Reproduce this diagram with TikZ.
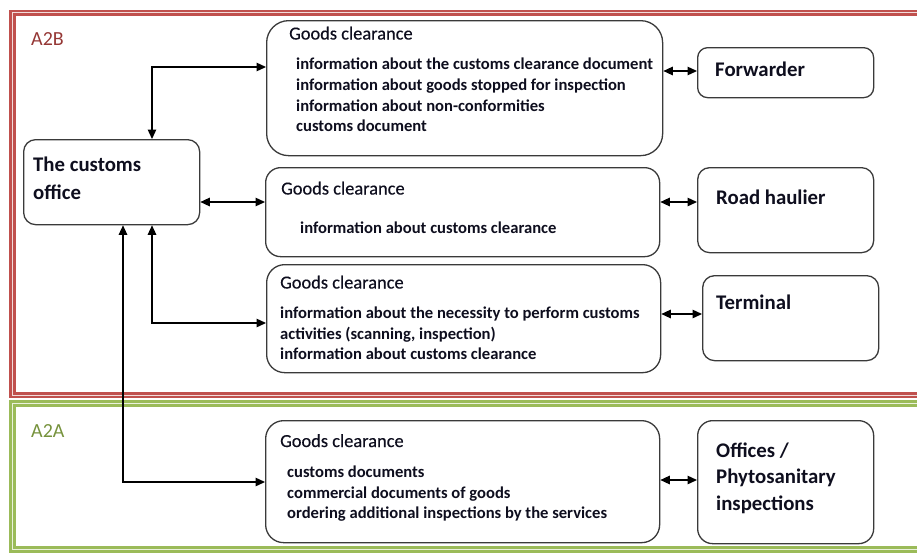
\documentclass[tikz,border=0pt]{standalone}
\usepackage{fontspec}
\setmainfont{Carlito}
\newfontfamily\ttlfont[FakeBold=0.35]{Carlito}
\usetikzlibrary{arrows.meta}
\definecolor{frred}{HTML}{C0504D}
\definecolor{frredl}{HTML}{F2DCDB}
\definecolor{frgrn}{HTML}{9BBB59}
\definecolor{frgrnl}{HTML}{EAF1DD}
\definecolor{lblred}{HTML}{953735}
\definecolor{lblgrn}{HTML}{76923C}
\definecolor{boxgray}{HTML}{3A3A3A}
\definecolor{txt}{RGB}{14,14,30}
\tikzset{
  box/.style={draw=boxgray, line width=1.3pt, fill=white, rounded corners=#1, inner sep=0pt, anchor=north west},
  ttl/.style={anchor=base west, inner sep=0pt, text=txt, font=\ttlfont\fontsize{18.4}{22}\selectfont},
  itm/.style={anchor=base west, inner sep=0pt, text=txt, font=\fontsize{16.6}{20}\selectfont\bfseries},
  big/.style={anchor=base west, inner sep=0pt, text=txt, font=\fontsize{20.8}{24}\selectfont\bfseries},
  zone/.style={anchor=base west, inner sep=0pt, font=\fontsize{20}{24}\selectfont},
  link/.style={line width=1.3pt, black, {Triangle[length=9.5pt,width=8.5pt]}-{Triangle[length=9.5pt,width=8.5pt]}},
}
\begin{document}
\begin{tikzpicture}[x=1pt,y=-1pt]
\useasboundingbox (0,0) rectangle (917,554);
\begin{scope}
\clip (0,0) rectangle (917,554);
\draw[frred, line width=2.8pt, double=frredl, double distance=1pt] (12.3,12.8) rectangle (960,395);
\draw[frgrn, line width=2.8pt, double=frgrnl, double distance=1pt] (12.5,403.3) rectangle (960,549.5);
\end{scope}
\node[zone, text=lblred] (zb) at (31,45) {A2B};
\node[zone, text=lblgrn] (za) at (31,437) {A2A};
% boxes
\node[box=12pt, minimum width=176pt, minimum height=85pt] (co) at (23,139) {};
\node[box=22pt, minimum width=396pt, minimum height=135pt] (g1) at (266,20) {};
\node[box=15pt, minimum width=394pt, minimum height=89pt] (g2) at (265,167) {};
\node[box=18pt, minimum width=394pt, minimum height=108pt] (g3) at (266,264) {};
\node[box=18pt, minimum width=394pt, minimum height=122pt] (g4) at (265,420) {};
\node[box=10pt, minimum width=176pt, minimum height=50pt] (fw) at (697,47) {};
\node[box=12pt, minimum width=176pt, minimum height=85pt] (rh) at (697,167) {};
\node[box=12pt, minimum width=176pt, minimum height=85pt] (tm) at (702,275) {};
\node[box=15pt, minimum width=176pt, minimum height=123pt] (of) at (697,420) {};
% texts
\node[big] (cot1) at (33,171) {The customs};
\node[big] (cot2) at (33,199) {office};
\node[ttl] (g1t) at (289,39.5) {Goods clearance};
\node[itm] (g1a) at (296,69.5) {information about the customs clearance document};
\node[itm] (g1b) at (296,90) {information about goods stopped for inspection};
\node[itm] (g1c) at (296,111) {information about non-conformities};
\node[itm] (g1d) at (296,131.5) {customs document};
\node[ttl] (g2t) at (281,194.5) {Goods clearance};
\node[itm] (g2a) at (300,233) {information about customs clearance};
\node[ttl] (g3t) at (280,288.5) {Goods clearance};
\node[itm] (g3a) at (280,318.5) {information about the necessity to perform customs};
\node[itm] (g3b) at (280,339) {activities (scanning, inspection)};
\node[itm] (g3c) at (280,359.5) {information about customs clearance};
\node[ttl] (g4t) at (280,447) {Goods clearance};
\node[itm] (g4a) at (287,477.5) {customs documents};
\node[itm] (g4b) at (287,498) {commercial documents of goods};
\node[itm] (g4c) at (287,518.5) {ordering additional inspections by the services};
\node[big] (fwt) at (715,76) {Forwarder};
\node[big] (rht) at (716,204) {Road haulier};
\node[big] (tmt) at (716,309) {Terminal};
\node[big] (oft1) at (716,457) {Offices /};
\node[big] (oft2) at (716,483.5) {Phytosanitary};
\node[big] (oft3) at (716,510) {inspections};
% connector levels
\coordinate (k1) at (152,67);
\coordinate (k2) at (0,202);
\coordinate (k3) at (152,323);
\coordinate (k4) at (123,482);
\coordinate (r1) at (0,71);
\coordinate (r2) at (0,202);
\coordinate (r3) at (0,314);
\coordinate (r4) at (0,480);
% connectors
\draw[link] (co.north -| k1) |- (g1.west |- k1);
\draw[link] (co.east |- k2) -- (g2.west |- k2);
\draw[link] (co.south -| k3) |- (g3.west |- k3);
\draw[link] (co.south -| k4) |- (g4.west |- k4);
\draw[link] (g1.east |- r1) -- (fw.west |- r1);
\draw[link] (g2.east |- r2) -- (rh.west |- r2);
\draw[link] (g3.east |- r3) -- (tm.west |- r3);
\draw[link] (g4.east |- r4) -- (of.west |- r4);
\end{tikzpicture}
\end{document}
